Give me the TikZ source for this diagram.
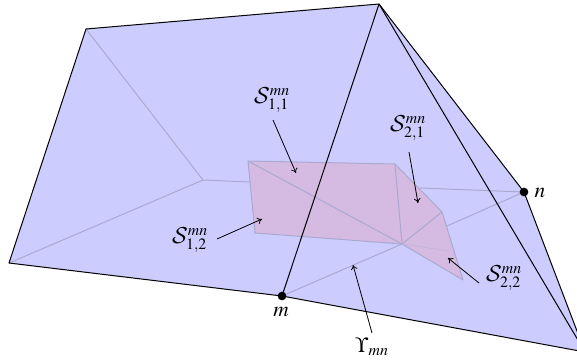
\documentclass[tikz,border=0pt]{standalone}
\usepackage{mathptmx}
\DeclareMathAlphabet{\mathcal}{OMS}{cmsy}{m}{n}
\usetikzlibrary{arrows.meta}
\definecolor{blueface}{RGB}{204,204,255}
\definecolor{purpface}{RGB}{213,186,226}
\definecolor{foldc}{RGB}{170,170,208}
\begin{document}
\begin{tikzpicture}[x=0.75pt,y=-0.75pt,
  foldline/.style={draw=foldc,line width=0.75pt},
  edgeline/.style={draw=black,line width=0.75pt},
  dotmark/.style={circle,fill=black,inner sep=0pt,minimum size=6.5pt},
  lab/.style={inner sep=0pt,font=\fontsize{16}{18}\selectfont},
  pointer/.style={draw=black,line width=0.6pt,-{To[length=3.5pt,width=5pt]}}]
\useasboundingbox (0,0) rectangle (577,360);
\clip (0,0) rectangle (577,360);
% outline points
\coordinate (L) at (9,263);
\coordinate (A) at (86,29);
\coordinate (T) at (379,4);
\coordinate (R) at (585,352);
\coordinate (M) at (282,296);
\coordinate (N) at (524,192);
\coordinate (C) at (203,180);
\coordinate (F0) at (250,182);
\coordinate (P1) at (248,161);
\coordinate (P2) at (395,164);
\coordinate (P3) at (442,212);
\coordinate (P4) at (463,280);
\coordinate (P5) at (402,244);
\coordinate (P6) at (255,233);
\coordinate (F1) at (420,188);
\coordinate (F2) at (447,226);
\coordinate (F3) at (449,251);
\fill[blueface] (L) -- (A) -- (T) -- (N) -- (R) -- (M) -- cycle;
\draw[foldline] (A) -- (C) -- (L);
\draw[foldline] (C) -- (F0);
\draw[foldline] (F1) -- (N);
\draw[foldline] (F2) -- (N);
\draw[foldline] (M) -- (P5);
\fill[purpface] (P1) -- (P2) -- (P3) -- (P4) -- (P5) -- (P6) -- cycle;
\draw[foldline,line join=round] (P1) -- (P2) -- (P3) -- (P4) -- (P5) -- (P6) -- cycle;
\draw[foldline] (P1) -- (P5);
\draw[foldline] (P2) -- (P5);
\draw[foldline] (P3) -- (P5);
\draw[draw=foldc!45!purpface,line width=0.4pt] (P5) -- (F3);
% black edges
\draw[edgeline,line join=round] (L) -- (A) -- (T) -- (N) -- (R) -- (M) -- cycle;
\draw[edgeline] (T) -- (M);
\draw[edgeline] (T) -- (R);
\node[dotmark] (m) at (M) {};
\node[dotmark] (n) at (N) {};
% labels
\node[lab] (lm) at (281,312) {$m$};
\node[lab] (ln) at (540,193) {$n$};
\node[lab,anchor=center] (s11) at (272,100) {$\mathcal{S}_{1,1}^{mn}$};
\node[lab,anchor=center] (s21) at (408,128) {$\mathcal{S}_{2,1}^{mn}$};
\node[lab,anchor=center] (s12) at (190,240) {$\mathcal{S}_{1,2}^{mn}$};
\node[lab,anchor=center] (s22) at (504,278) {$\mathcal{S}_{2,2}^{mn}$};
\node[lab] (ups) at (372,347) {$\Upsilon_{mn}$};
% pointers
\coordinate (a1s) at (273,120); \coordinate (a1e) at (296,173);
\coordinate (a2s) at (409,152); \coordinate (a2e) at (418,203);
\coordinate (a3s) at (217,239); \coordinate (a3e) at (262,219);
\coordinate (a4s) at (479,283); \coordinate (a4e) at (448,258);
\coordinate (a5s) at (372,333); \coordinate (a5e) at (353,265);
\draw[pointer] (a1s) -- (a1e);
\draw[pointer] (a2s) -- (a2e);
\draw[pointer] (a3s) -- (a3e);
\draw[pointer] (a4s) -- (a4e);
\draw[pointer] (a5s) -- (a5e);
\end{tikzpicture}
\end{document}
